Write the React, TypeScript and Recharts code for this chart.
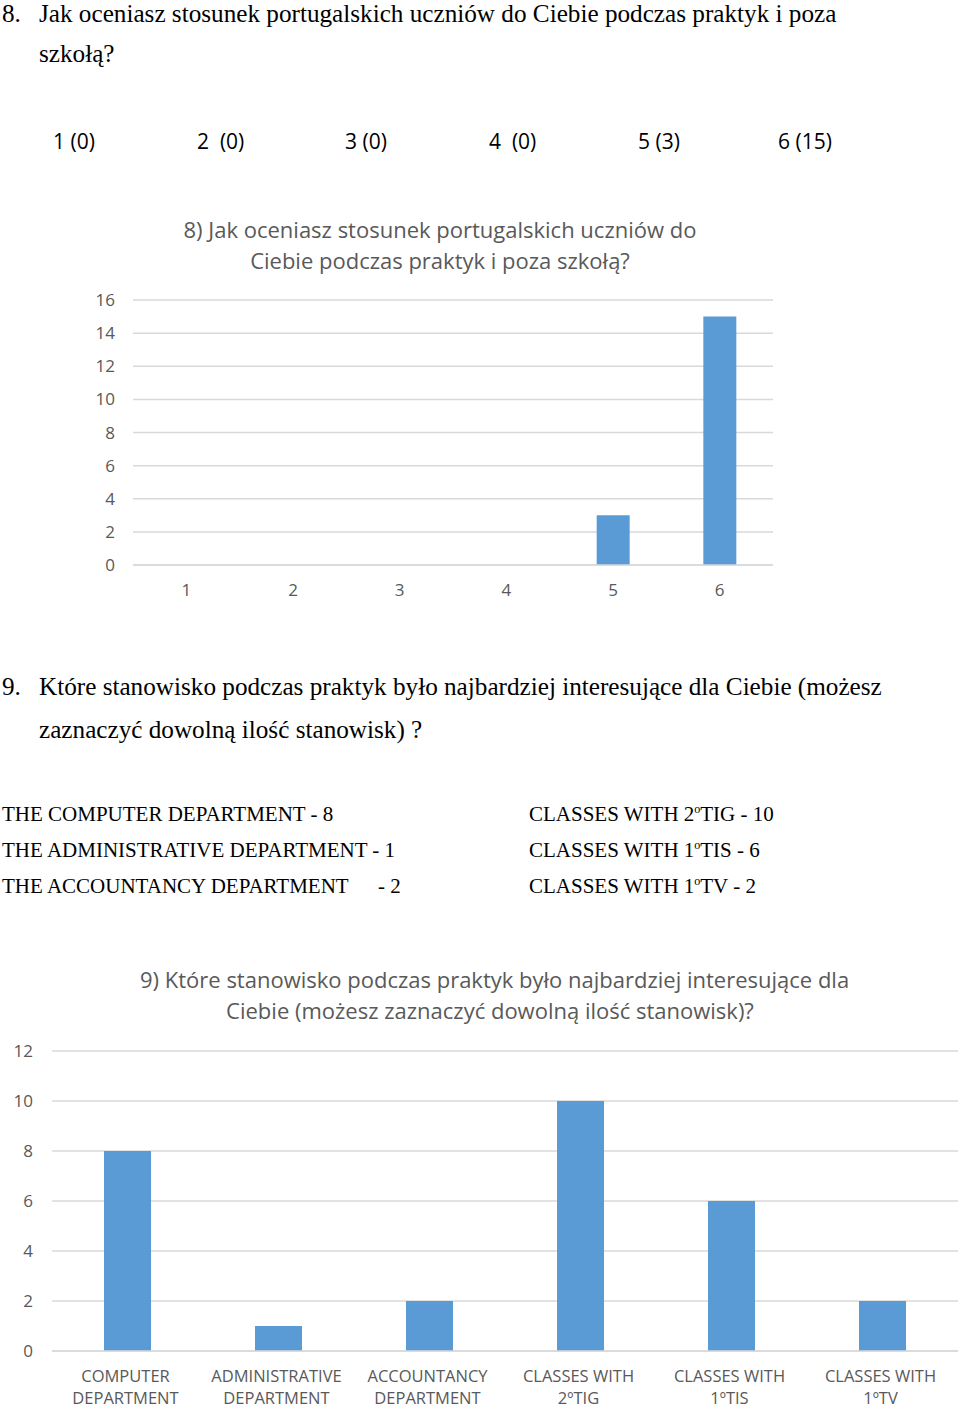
import React from 'react'
import { BarChart, Bar, XAxis, YAxis, CartesianGrid } from 'recharts'

// question 8: rating scale 1..6
const ratingLabels = ['1', '2', '3', '4', '5', '6']
const ratingCounts = [0, 0, 0, 0, 3, 15]
const ratingTicks = [0, 2, 4, 6, 8, 10, 12, 14, 16]
const ratingSummary = ['1 (0)', '2  (0)', '3 (0)', '4  (0)', '5 (3)', '6 (15)']

// question 9: most interesting position
const positionLabels = [
  'COMPUTER\nDEPARTMENT',
  'ADMINISTRATIVE\nDEPARTMENT',
  'ACCOUNTANCY\nDEPARTMENT',
  'CLASSES WITH\n2ºTIG',
  'CLASSES WITH\n1ºTIS',
  'CLASSES WITH\n1ºTV',
]
const positionCounts = [8, 1, 2, 10, 6, 2]
const positionTicks = [0, 2, 4, 6, 8, 10, 12]

const BAR = '#5b9bd5'
const GRID = '#d9d9d9'
const LABEL = '#595959'
const CHART_FONT = '"Open Sans", sans-serif'
const DOC_FONT = '"Liberation Serif", "Times New Roman", serif'

const ratingData = ratingLabels.map((name, i) => ({ name, value: ratingCounts[i] }))
const positionData = positionLabels.map((name, i) => ({ name, value: positionCounts[i] }))

function abs(left: number, top: number, extra: React.CSSProperties = {}): React.CSSProperties {
  return { position: 'absolute', left, top, whiteSpace: 'pre', ...extra }
}

function TwoLineTick(props: any) {
  const { x, y, payload } = props
  const lines = String(payload.value).split('\n')
  return (
    <text x={x - 2} y={y} textAnchor="middle" fill={LABEL} fontSize={16.5} fontFamily={CHART_FONT}>
      {lines.map((line, i) => (
        <tspan key={i} x={x - 2} dy={i === 0 ? 23 : 22}>
          {line}
        </tspan>
      ))}
    </text>
  )
}

export default function App() {
  const docText: React.CSSProperties = {
    fontFamily: DOC_FONT,
    fontSize: 25.2,
    lineHeight: '22px',
    color: '#000',
  }
  const listText: React.CSSProperties = { fontFamily: DOC_FONT, fontSize: 21, color: '#000' }
  const chartTitle: React.CSSProperties = {
    fontFamily: CHART_FONT,
    fontSize: 22,
    color: LABEL,
    textAlign: 'center',
    lineHeight: '31px',
    whiteSpace: 'nowrap',
  }
  const sup: React.CSSProperties = { fontSize: 12 }

  return (
    <div style={{ position: 'absolute', left: 0, top: 0, width: 960, height: 1408, background: '#fff' }}>
      <div style={abs(2, 3, docText)}>8.</div>
      <div style={abs(39, 3, docText)}>
        Jak oceniasz stosunek portugalskich uczniów do Ciebie podczas praktyk i poza
      </div>
      <div style={abs(39, 43, docText)}>szkołą?</div>

      {ratingSummary.map((s, i) => (
        <div
          key={s}
          style={abs([53, 197, 345, 489, 638, 778][i], 127, {
            fontFamily: CHART_FONT,
            fontSize: 21,
            color: '#000',
          })}
        >
          {s}
        </div>
      ))}

      <div style={abs(140, 214, { ...chartTitle, width: 600 })}>
        8) Jak oceniasz stosunek portugalskich uczniów do
        <br />
        Ciebie podczas praktyk i poza szkołą?
      </div>

      <div style={abs(0, 200)}>
        <BarChart
          width={960}
          height={405}
          data={ratingData}
          margin={{ top: 100, right: 187, left: 0, bottom: 0 }}
          barCategoryGap="0%"
        >
          <CartesianGrid vertical={false} stroke={GRID} strokeWidth={1.5} />
          <XAxis
            dataKey="name"
            height={40}
            axisLine={{ stroke: GRID, strokeWidth: 1.5 }}
            tickLine={false}
            tickMargin={13}
            tick={{ fill: LABEL, fontSize: 17, fontFamily: CHART_FONT }}
          />
          <YAxis
            width={133}
            domain={[0, 16]}
            ticks={ratingTicks}
            axisLine={false}
            tickLine={false}
            tickSize={0}
            tickMargin={18}
            tick={{ fill: LABEL, fontSize: 17, fontFamily: CHART_FONT }}
          />
          <Bar dataKey="value" fill={BAR} barSize={33} isAnimationActive={false} />
        </BarChart>
      </div>

      <div style={abs(2, 676, docText)}>9.</div>
      <div style={abs(39, 676, docText)}>
        Które stanowisko podczas praktyk było najbardziej interesujące dla Ciebie (możesz
      </div>
      <div style={abs(39, 719, docText)}>zaznaczyć dowolną ilość stanowisk) ?</div>

      <div style={abs(2, 802, listText)}>THE COMPUTER DEPARTMENT - 8</div>
      <div style={abs(2, 838, listText)}>THE ADMINISTRATIVE DEPARTMENT - 1</div>
      <div style={abs(2, 874, listText)}>THE ACCOUNTANCY DEPARTMENT</div>
      <div style={abs(378, 874, listText)}>- 2</div>
      <div style={abs(529, 802, listText)}>
        CLASSES WITH 2<sup style={sup}>o</sup>TIG - 10
      </div>
      <div style={abs(529, 838, listText)}>
        CLASSES WITH 1<sup style={sup}>o</sup>TIS - 6
      </div>
      <div style={abs(529, 874, listText)}>
        CLASSES WITH 1<sup style={sup}>o</sup>TV - 2
      </div>

      <div style={abs(140, 964, { ...chartTitle, width: 700 })}>
        9) Które stanowisko podczas praktyk było najbardziej interesujące dla
        <br />
        Ciebie (możesz zaznaczyć dowolną ilość stanowisk)?
      </div>

      <div style={abs(0, 1000)}>
        <BarChart
          width={960}
          height={408}
          data={positionData}
          margin={{ top: 51, right: 2, left: 0, bottom: 0 }}
          barCategoryGap="0%"
        >
          <CartesianGrid vertical={false} stroke={GRID} strokeWidth={1.5} />
          <XAxis
            dataKey="name"
            height={57}
            axisLine={{ stroke: GRID, strokeWidth: 1.5 }}
            tickLine={false}
            interval={0}
            tick={<TwoLineTick />}
          />
          <YAxis
            width={52}
            domain={[0, 12]}
            ticks={positionTicks}
            axisLine={false}
            tickLine={false}
            tickSize={0}
            tickMargin={19}
            tick={{ fill: LABEL, fontSize: 17, fontFamily: CHART_FONT }}
          />
          <Bar dataKey="value" fill={BAR} barSize={47} isAnimationActive={false} />
        </BarChart>
      </div>
    </div>
  )
}
